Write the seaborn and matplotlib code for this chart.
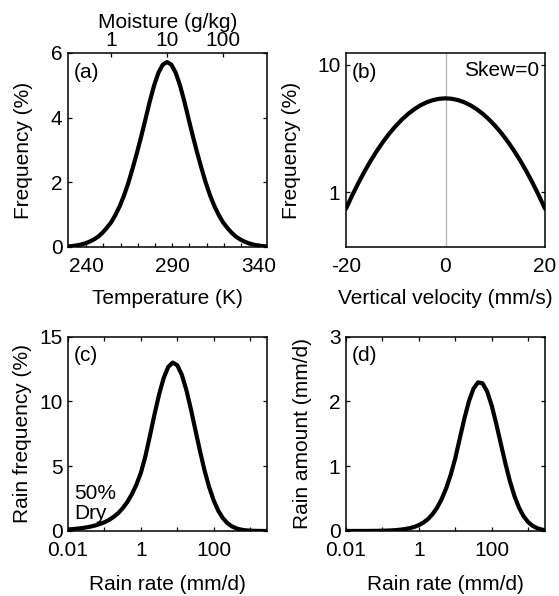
import numpy as np
import matplotlib
matplotlib.use("Agg")
import matplotlib.pyplot as plt
import seaborn as sns
from matplotlib.ticker import FixedLocator, NullLocator, FixedFormatter

# ---------------- data ----------------
temperature = [227.0, 229.5, 232.0, 234.5, 237.0, 239.5, 242.0, 244.5, 247.0, 249.5,
               252.0, 254.5, 257.0, 259.5, 262.0, 264.5, 267.0, 269.5, 272.0, 274.5,
               277.0, 279.5, 282.0, 284.5, 287.0, 289.5, 292.0, 294.5, 297.0, 299.5,
               302.0, 304.5, 307.0, 309.5, 312.0, 314.5, 317.0, 319.5, 322.0, 324.5,
               327.0, 329.5, 332.0, 334.5, 337.0, 339.5, 342.0, 344.5, 347.0]
freq_temperature = [0.011, 0.019, 0.030, 0.049, 0.076, 0.113, 0.165, 0.233, 0.32, 0.44,
                    0.59, 0.76, 0.99, 1.26, 1.59, 1.98, 2.43, 2.91, 3.42, 3.96,
                    4.51, 5.00, 5.39, 5.64, 5.72, 5.64, 5.39, 5.00, 4.51, 3.96,
                    3.42, 2.91, 2.43, 1.98, 1.59, 1.26, 0.99, 0.76, 0.59, 0.44,
                    0.32, 0.233, 0.165, 0.113, 0.076, 0.049, 0.030, 0.019, 0.011]

velocity = [-20.0, -18.75, -17.5, -16.25, -15.0, -13.75, -12.5, -11.25, -10.0, -8.75,
            -7.5, -6.25, -5.0, -3.75, -2.5, -1.25, 0.0, 1.25, 2.5, 3.75, 5.0, 6.25,
            7.5, 8.75, 10.0, 11.25, 12.5, 13.75, 15.0, 16.25, 17.5, 18.75, 20.0]
freq_velocity = [0.740, 0.942, 1.181, 1.459, 1.774, 2.122, 2.500, 2.901, 3.311, 3.723,
                 4.120, 4.489, 4.818, 5.088, 5.289, 5.415, 5.458, 5.415, 5.289, 5.088,
                 4.818, 4.489, 4.120, 3.723, 3.311, 2.901, 2.500, 2.122, 1.774, 1.459,
                 1.181, 0.942, 0.740]

log10_rain_rate = [-2.0, -1.875, -1.75, -1.625, -1.5, -1.375, -1.25, -1.125, -1.0, -0.875,
                   -0.75, -0.625, -0.5, -0.375, -0.25, -0.125, 0.0, 0.125, 0.25, 0.375,
                   0.5, 0.625, 0.75, 0.875, 1.0, 1.125, 1.25, 1.375, 1.5, 1.625,
                   1.75, 1.875, 2.0, 2.125, 2.25, 2.375, 2.5, 2.625, 2.75, 2.875,
                   3.0, 3.125, 3.25, 3.375, 3.5]
rain_frequency = [0.120, 0.146, 0.179, 0.221, 0.276, 0.343, 0.427, 0.537, 0.674, 0.852,
                  1.084, 1.370, 1.749, 2.223, 2.82, 3.56, 4.48, 5.77, 7.36, 9.00,
                  10.53, 11.79, 12.65, 12.99, 12.78, 12.04, 10.86, 9.38, 7.75, 6.14,
                  4.65, 3.38, 2.35, 1.56, 0.996, 0.607, 0.355, 0.199, 0.106, 0.055,
                  0.027, 0.013, 0.006, 0.002, 0.001]
rain_amount = [0.0005, 0.0006, 0.0007, 0.0008, 0.0009, 0.0013, 0.002, 0.003, 0.0045, 0.0067,
               0.0098, 0.014, 0.021, 0.030, 0.044, 0.063, 0.091, 0.130, 0.184, 0.259,
               0.359, 0.491, 0.659, 0.868, 1.124, 1.432, 1.736, 2.002, 2.197, 2.293,
               2.277, 2.151, 1.933, 1.653, 1.345, 1.043, 0.767, 0.537, 0.358, 0.227,
               0.137, 0.079, 0.043, 0.022, 0.011]

temp_ticks = [240, 290, 340]
temp_minor = [250, 260, 270, 280, 300, 310, 320, 330]
moisture_ticks = [1, 10, 100]
moisture_ticklabels = ["1", "10", "100"]
moisture_lim = (0.172, 601.0)
rain_ticks = [0.01, 0.1, 1, 10, 100, 1000]
rain_ticklabels = ["0.01", "", "1", "", "100", ""]

rain_rate = [10.0 ** v for v in log10_rain_rate]

# ---------------- style ----------------
sns.set_style("ticks")
plt.rcParams["font.family"] = ["Liberation Sans", "DejaVu Sans"]
FS = 15
plt.rcParams.update({
    "font.size": FS,
    "axes.labelsize": FS,
    "xtick.labelsize": FS,
    "ytick.labelsize": FS,
    "text.color": "black",
    "axes.labelcolor": "black",
    "axes.unicode_minus": False,
    "axes.linewidth": 1.1,
    "axes.edgecolor": "black",
    "xtick.color": "black",
    "ytick.color": "black",
    "xtick.direction": "in",
    "ytick.direction": "in",
    "xtick.major.size": 3.0,
    "ytick.major.size": 3.0,
    "xtick.minor.size": 3.0,
    "xtick.major.width": 0.9,
    "ytick.major.width": 0.9,
    "xtick.minor.width": 0.9,
    "xtick.major.pad": 7,
    "ytick.major.pad": 4,
})

W, H = 559, 596
fig = plt.figure(figsize=(W / 100, H / 100), dpi=100)


def add_axes(l, t, r, b):
    return fig.add_axes([l / W, 1 - b / H, (r - l) / W, (b - t) / H])


axa = add_axes(68, 53, 267, 247)
axb = add_axes(346, 53, 545, 247)
axc = add_axes(68, 336.5, 267, 531)
axd = add_axes(346, 336.5, 545, 531)

LW = 3.0

# ---- (a) ----
sns.lineplot(x=temperature, y=freq_temperature, ax=axa, color="black", lw=LW)
axa.set_xlim(229.5, 345)
axa.set_ylim(0, 6)
axa.xaxis.set_major_locator(FixedLocator(temp_ticks))
axa.xaxis.set_minor_locator(FixedLocator(temp_minor))
axa.set_yticks([0, 2, 4, 6])
axa.tick_params(axis="x", which="both", bottom=True, top=False)
axa.tick_params(axis="y", left=True, right=True)
axa.set_xlabel("Temperature (K)")
axa.set_ylabel("Frequency (%)")
axa.text(0.03, 0.95, "(a)", transform=axa.transAxes, ha="left", va="top", fontsize=FS)
top = axa.twiny()
top.set_xscale("log")
top.set_xlim(*moisture_lim)
top.xaxis.set_major_locator(FixedLocator(moisture_ticks))
top.xaxis.set_major_formatter(FixedFormatter(moisture_ticklabels))
top.xaxis.set_minor_locator(NullLocator())
top.tick_params(axis="x", direction="in", pad=2, length=3)
top.set_xlabel("Moisture (g/kg)", labelpad=2)
for s in top.spines.values():
    s.set_visible(False)

# ---- (b) ----
axb.axvline(0, color="#b8b8b8", lw=1.0, zorder=1)
sns.lineplot(x=velocity, y=freq_velocity, ax=axb, color="black", lw=LW, zorder=3)
axb.set_yscale("log")
axb.set_xlim(-20, 20)
axb.set_ylim(0.37, 12.4)
axb.set_xticks([-20, 0, 20])
axb.yaxis.set_major_locator(FixedLocator([1, 10]))
axb.yaxis.set_major_formatter(FixedFormatter(["1", "10"]))
axb.yaxis.set_minor_locator(NullLocator())
axb.tick_params(axis="x", bottom=False, top=False)
axb.tick_params(axis="y", left=True, right=True)
axb.set_xlabel("Vertical velocity (mm/s)")
axb.set_ylabel("Frequency (%)")
axb.text(0.03, 0.95, "(b)", transform=axb.transAxes, ha="left", va="top", fontsize=FS)
axb.text(0.97, 0.96, "Skew=0", transform=axb.transAxes, ha="right", va="top", fontsize=FS)

# ---- (c) & (d) ----
for ax, vals, ylim, yt, lab, tag in [
    (axc, rain_frequency, 15, [0, 5, 10, 15], "Rain frequency (%)", "(c)"),
    (axd, rain_amount, 3, [0, 1, 2, 3], "Rain amount (mm/d)", "(d)"),
]:
    sns.lineplot(x=rain_rate, y=vals, ax=ax, color="black", lw=LW)
    ax.set_xscale("log")
    ax.set_xlim(0.01, 2900)
    ax.set_ylim(0, ylim)
    ax.xaxis.set_major_locator(FixedLocator(rain_ticks))
    ax.xaxis.set_major_formatter(FixedFormatter(rain_ticklabels))
    ax.xaxis.set_minor_locator(NullLocator())
    ax.set_yticks(yt)
    ax.tick_params(axis="x", bottom=True, top=True)
    ax.tick_params(axis="y", left=True, right=True)
    ax.set_xlabel("Rain rate (mm/d)")
    ax.set_ylabel(lab)
    ax.text(0.03, 0.95, tag, transform=ax.transAxes, ha="left", va="top", fontsize=FS)

axc.text(0.03, 0.04, "50%\nDry", transform=axc.transAxes, ha="left", va="bottom",
         fontsize=FS, linespacing=1.05)

for ax in (axa, axb, axc, axd):
    for s in ax.spines.values():
        s.set_visible(True)
        s.set_linewidth(1.1)

axa.yaxis.set_label_coords(-0.176, 0.5)
axb.yaxis.set_label_coords(-0.226, 0.5)
axc.yaxis.set_label_coords(-0.181, 0.5)
axd.yaxis.set_label_coords(-0.171, 0.5)
for ax in (axa, axb):
    ax.xaxis.set_label_coords(0.5, -0.216)
for ax in (axc, axd):
    ax.xaxis.set_label_coords(0.5, -0.226)

fig.savefig("out.png", dpi=100)
